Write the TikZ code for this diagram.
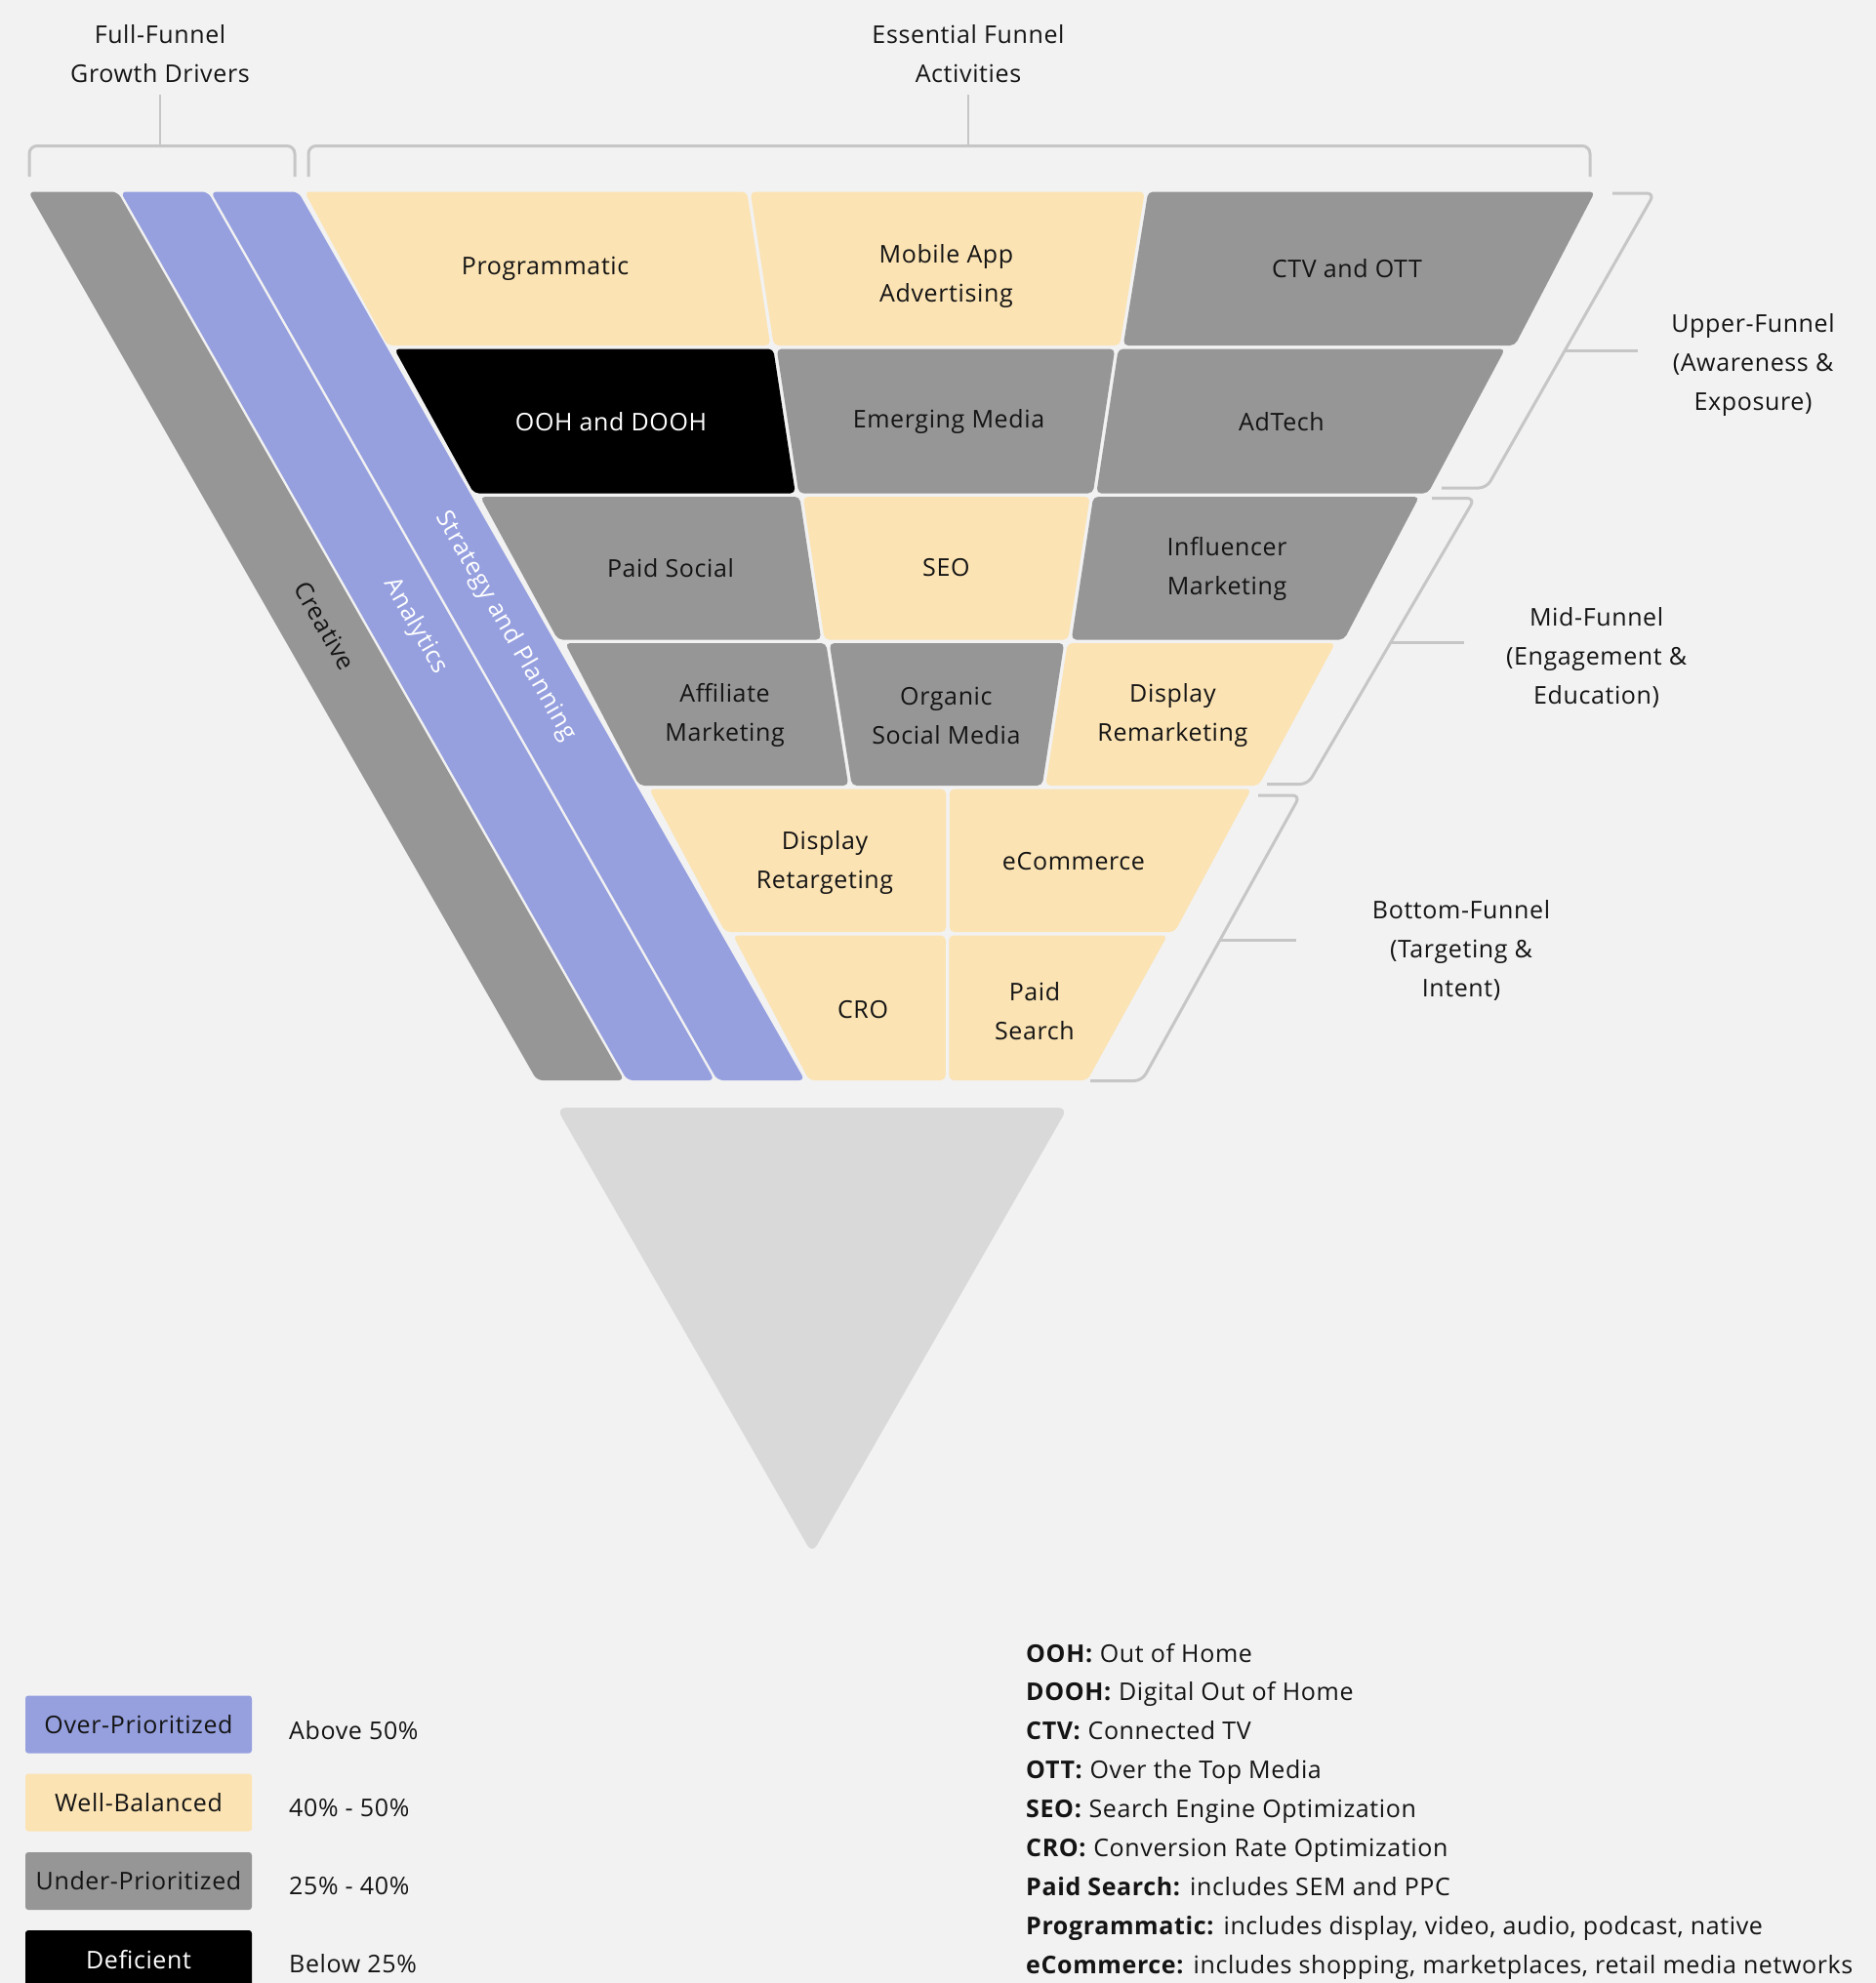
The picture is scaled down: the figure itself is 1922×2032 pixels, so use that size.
\documentclass[tikz,border=0pt]{standalone}
\usepackage{fontspec}
\setmainfont{Open Sans}[LetterSpace=2.5]
\definecolor{cbg}{HTML}{F2F2F2}
\definecolor{cgray}{HTML}{969696}
\definecolor{cyel}{HTML}{FBE3B3}
\definecolor{cblue}{HTML}{96A0DF}
\definecolor{ctri}{HTML}{D9D9D9}
\definecolor{cbrk}{HTML}{C6C6C6}
\definecolor{ctext}{HTML}{141414}
\begin{document}
\begin{tikzpicture}[x=1pt,y=-1pt,
  tilegray/.style={fill=cgray, rounded corners=5pt},
  tileyel/.style={fill=cyel, rounded corners=5pt},
  tileblue/.style={fill=cblue, rounded corners=6pt},
  tileblk/.style={fill=black, rounded corners=5pt},
  lbl/.style={font=\fontsize{25}{40}\selectfont, text=ctext, align=center, inner sep=0pt},
  wlbl/.style={lbl, text=white},
  brk/.style={draw=cbrk, line width=3pt, rounded corners=8pt},
  stem/.style={draw=cbrk, line width=3pt},
  legbox/.style={rounded corners=3pt, minimum width=232pt, minimum height=59pt, inner sep=0pt, font=\fontsize{25}{30}\selectfont, text=ctext},
  gloss/.style={font=\fontsize{25}{30}\selectfont, text=ctext, anchor=base west, inner sep=0pt}
]
\useasboundingbox (0,0) rectangle (1922,2032);
\fill[cbg] (0,0) rectangle (1922,2032);

% ---- top brackets and labels
\node[lbl] (fullf) at (164,55) {Full-Funnel\\Growth Drivers};
\node[lbl] (essf) at (992,55) {Essential Funnel\\Activities};
\draw[brk] (30,181) -- (30,149.5) -- (302,149.5) -- (302,181);
\coordinate (fullb) at (164,149.5);
\draw[draw=cbrk, line width=2pt] (164,97) -- (fullb);
\draw[brk] (316,181) -- (316,149.5) -- (1629,149.5) -- (1629,181);
\coordinate (essb) at (992,149.5);
\draw[draw=cbrk, line width=2pt] (992,97) -- (essb);

% ---- left bands
\fill[tilegray, rounded corners=6pt] (29,196.5) -- (120.5,196.5) -- (639.5,1107) -- (550,1107) -- cycle;
\fill[tileblue] (123.5,196.5) -- (213,196.5) -- (732,1107) -- (642.5,1107) -- cycle;
\fill[tileblue] (216,196.5) -- (305.5,196.5) -- (824.5,1107) -- (735,1107) -- cycle;
\node[lbl, rotate=-60.3] (creative) at (333,641.5) {Creative};
\node[wlbl, rotate=-60.3] (analytics) at (425.5,641.5) {Analytics};
\node[wlbl, rotate=-60.3] (strategy) at (518,641.5) {Strategy and Planning};

% ---- row 1
\fill[tileyel] (312,196.5) -- (765.25,196.5) -- (789.25,354) -- (397,354) -- cycle;
\fill[tileyel] (768.75,196.5) -- (1172.75,196.5) -- (1147.25,354) -- (792.75,354) -- cycle;
\fill[tilegray] (1176.25,196.5) -- (1634,196.5) -- (1552,354) -- (1150.75,354) -- cycle;
% ---- row 2
\fill[tileblk] (404,357.5) -- (792.25,357.5) -- (814.85,505.5) -- (485.5,505.5) -- cycle;
\fill[tilegray] (795.75,357.5) -- (1142.25,357.5) -- (1119.75,505.5) -- (818.35,505.5) -- cycle;
\fill[tilegray] (1145.75,357.5) -- (1542,357.5) -- (1463,505.5) -- (1123.25,505.5) -- cycle;
% ---- row 3
\fill[tilegray] (492,509) -- (819.25,509) -- (841.25,655.5) -- (571.5,655.5) -- cycle;
\fill[tileyel] (822.75,509) -- (1116.65,509) -- (1094.25,655.5) -- (844.75,655.5) -- cycle;
\fill[tilegray] (1120.15,509) -- (1454,509) -- (1377,655.5) -- (1097.75,655.5) -- cycle;
% ---- row 4
\fill[tilegray] (579,659) -- (846.25,659) -- (869.25,805) -- (655,805) -- cycle;
\fill[tilegray] (849.75,659) -- (1090.25,659) -- (1067.75,805) -- (872.75,805) -- cycle;
\fill[tileyel] (1093.75,659) -- (1368,659) -- (1289.5,805) -- (1071.25,805) -- cycle;
% ---- row 5
\fill[tileyel] (665,808.5) -- (969.25,808.5) -- (969.25,955) -- (743,955) -- cycle;
\fill[tileyel] (972.75,808.5) -- (1282,808.5) -- (1203.5,955) -- (972.75,955) -- cycle;
% ---- row 6
\fill[tileyel] (751,958.5) -- (968.75,958.5) -- (968.75,1107) -- (829,1107) -- cycle;
\fill[tileyel] (972.25,958.5) -- (1196,958.5) -- (1114,1107) -- (972.25,1107) -- cycle;

% ---- tile labels
\node[lbl] (prog) at (558.6,275) {Programmatic};
\node[lbl] (mobile) at (969.4,283) {Mobile App\\Advertising};
\node[lbl] (ctv) at (1380,275) {CTV and OTT};
\node[wlbl] (ooh) at (626,432) {OOH and DOOH};
\node[lbl] (emerg) at (972,432) {Emerging Media};
\node[lbl] (adtech) at (1313,432) {AdTech};
\node[lbl] (psoc) at (687,582) {Paid Social};
\node[lbl] (seo) at (969.4,582) {SEO};
\node[lbl] (infl) at (1257,583) {Influencer\\Marketing};
\node[lbl] (affil) at (742.6,733) {Affiliate\\Marketing};
\node[lbl] (organic) at (969.4,733) {Organic\\Social Media};
\node[lbl] (drem) at (1201.4,733) {Display\\Remarketing};
\node[lbl] (dret) at (845,883.5) {Display\\Retargeting};
\node[lbl] (ecom) at (1100,883) {eCommerce};
\node[lbl] (cro) at (884,1034.5) {CRO};
\node[lbl] (psearch) at (1060,1036.5) {Paid\\Search};

% ---- right brackets
\draw[brk] (1652,198) -- (1695,198) -- (1523,500) -- (1477,500);
\coordinate (upb) at (1603.3,359);
\draw[stem] (upb) -- (1678,359);
\node[lbl] (upper) at (1796,373.5) {Upper-Funnel\\(Awareness \&\\Exposure)};

\draw[brk] (1467,510.5) -- (1511,510.5) -- (1340,803.5) -- (1298,803.5);
\coordinate (midb) at (1424.6,658.4);
\draw[stem] (midb) -- (1500,658.4);
\node[lbl] (mid) at (1635.6,674) {Mid-Funnel\\(Engagement \&\\Education)};

\draw[brk] (1289,815) -- (1332,815) -- (1170,1107.5) -- (1117,1107.5);
\coordinate (botb) at (1250,963);
\draw[stem] (botb) -- (1328,963);
\node[lbl] (bottom) at (1497,973.5) {Bottom-Funnel\\(Targeting \&\\Intent)};

% ---- lower triangle
\fill[ctri, rounded corners=10pt] (570,1135) -- (1094,1135) -- (832,1592) -- cycle;

% ---- legend
\node[legbox, fill=cblue] (lover) at (142,1767) {Over-Prioritized};
\node[legbox, fill=cyel] (lwell) at (142,1847) {Well-Balanced};
\node[legbox, fill=cgray] (lunder) at (142,1927.5) {Under-Prioritized};
\fill[black, rounded corners=3pt] (26,1978) rectangle (258,2050);
\node[font=\fontsize{25}{30}\selectfont, text=white, inner sep=0pt] (ldef) at (142,2008) {Deficient};
\node[gloss] (pover) at (296,1782.5) {Above 50\%};
\node[gloss] (pwell) at (296,1861.5) {40\% - 50\%};
\node[gloss] (punder) at (296,1941.5) {25\% - 40\%};
\node[gloss] (pdef) at (296,2021.5) {Below 25\%};

% ---- glossary
\node[gloss] (g1) at (1051,1703) {\textbf{OOH:} Out of Home};
\node[gloss] (g2) at (1051,1742.5) {\textbf{DOOH:} Digital Out of Home};
\node[gloss] (g3) at (1051,1782.5) {\textbf{CTV:} Connected TV};
\node[gloss] (g4) at (1051,1822.5) {\textbf{OTT:} Over the Top Media};
\node[gloss] (g5) at (1051,1862.5) {\textbf{SEO:} Search Engine Optimization};
\node[gloss] (g6) at (1051,1902.5) {\textbf{CRO:} Conversion Rate Optimization};
\node[gloss] (g7) at (1051,1942.5) {\textbf{Paid Search:} includes SEM and PPC};
\node[gloss] (g8) at (1051,1982.5) {\textbf{Programmatic:} includes display, video, audio, podcast, native};
\node[gloss] (g9) at (1051,2022.5) {\textbf{eCommerce:} includes shopping, marketplaces, retail media networks};
\end{tikzpicture}
\end{document}
